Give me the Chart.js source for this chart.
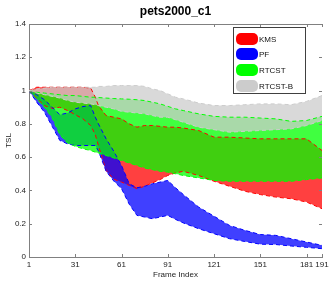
<!DOCTYPE html>
<html>
<head>
<meta charset="utf-8">
<script src="https://cdn.jsdelivr.net/npm/chart.js@4.4.0/dist/chart.umd.min.js"></script>
<style>
    html, body { margin: 0; padding: 0; background: #fff; }
    #wrap { width: 332px; height: 281px; }
</style>
</head>
<body>
<div id="wrap"><canvas id="chartCanvas" width="332" height="281"></canvas></div>
<script>
// Data
const frames = [1, 6, 11, 16, 21, 26, 31, 36, 41, 44, 46, 51, 56, 61, 66, 71, 76, 81, 86, 91, 96, 101, 111, 121, 131, 141, 151, 161, 171, 181, 191];

const kmsUpper = [1.00, 1.02, 1.02, 1.02, 1.02, 1.02, 1.02, 1.02, 1.015, 0.96, 0.91, 0.85, 0.84, 0.83, 0.80, 0.78, 0.79, 0.79, 0.785, 0.78, 0.78, 0.775, 0.76, 0.72, 0.72, 0.715, 0.71, 0.71, 0.71, 0.71, 0.64];
const kmsLower = [1.00, 0.955, 0.91, 0.893, 0.90, 0.88, 0.855, 0.83, 0.79, 0.735, 0.67, 0.52, 0.467, 0.45, 0.43, 0.41, 0.425, 0.445, 0.465, 0.49, 0.505, 0.515, 0.49, 0.455, 0.425, 0.395, 0.375, 0.36, 0.35, 0.33, 0.29];

const pfUpper = [1.00, 0.975, 0.945, 0.90, 0.855, 0.865, 0.89, 0.904, 0.91, 0.84, 0.80, 0.71, 0.635, 0.55, 0.44, 0.416, 0.425, 0.44, 0.45, 0.46, 0.416, 0.376, 0.30, 0.245, 0.19, 0.16, 0.135, 0.13, 0.11, 0.09, 0.07];
const pfLower = [1.00, 0.93, 0.87, 0.785, 0.70, 0.68, 0.67, 0.67, 0.67, 0.67, 0.637, 0.515, 0.456, 0.41, 0.317, 0.25, 0.24, 0.23, 0.24, 0.25, 0.226, 0.205, 0.17, 0.14, 0.11, 0.093, 0.077, 0.075, 0.066, 0.058, 0.05];

const rtcstUpper = [1.00, 0.99, 0.985, 0.98, 0.975, 0.97, 0.97, 0.965, 0.96, 0.96, 0.958, 0.955, 0.952, 0.95, 0.948, 0.945, 0.94, 0.93, 0.92, 0.905, 0.89, 0.88, 0.86, 0.845, 0.84, 0.84, 0.835, 0.83, 0.815, 0.82, 0.845];
const rtcstLower = [1.00, 0.95, 0.90, 0.836, 0.735, 0.685, 0.665, 0.65, 0.64, 0.63, 0.625, 0.61, 0.595, 0.58, 0.565, 0.55, 0.535, 0.525, 0.515, 0.51, 0.50, 0.49, 0.475, 0.46, 0.455, 0.455, 0.455, 0.455, 0.455, 0.465, 0.475];

const rtcstbUpper = [1.00, 1.01, 1.015, 1.02, 1.02, 1.02, 1.02, 1.02, 1.02, 1.02, 1.025, 1.025, 1.03, 1.03, 1.03, 1.03, 1.025, 1.01, 1.00, 0.98, 0.96, 0.95, 0.925, 0.91, 0.91, 0.915, 0.92, 0.92, 0.915, 0.935, 0.97];
const rtcstbLower = [1.00, 0.985, 0.975, 0.965, 0.955, 0.94, 0.93, 0.925, 0.92, 0.915, 0.91, 0.90, 0.89, 0.875, 0.87, 0.865, 0.86, 0.85, 0.84, 0.84, 0.825, 0.81, 0.78, 0.765, 0.75, 0.755, 0.76, 0.765, 0.77, 0.79, 0.82];

const seriesNames = ['KMS', 'PF', 'RTCST', 'RTCST-B'];
const xTicks = [1, 31, 61, 91, 121, 151, 181, 191];
const yTicks = [0, 0.2, 0.4, 0.6, 0.8, 1, 1.2, 1.4];

const lineColors = ['#ff0000', '#0000ff', '#00ff00', '#cccccc'];
const fillColors = ['rgba(255,0,0,0.75)', 'rgba(0,0,255,0.75)', 'rgba(0,255,0,0.75)', 'rgba(204,204,204,0.75)'];
const fontFamily = '"Liberation Sans", Arial, Helvetica, sans-serif';

function toPoints(values) {
    return frames.map((f, i) => ({ x: f, y: values[i] }));
}

// one band = lower line + upper line filled down to it
function bandDatasets(k, upper, lower) {
    const common = {
        borderColor: lineColors[k],
        borderWidth: 1,
        borderDash: [4, 3],
        pointRadius: 0,
        tension: 0,
        order: 4 - k
    };
    return [
        Object.assign({ label: seriesNames[k] + ' low', data: toPoints(lower), fill: false }, common),
        Object.assign({ label: seriesNames[k], data: toPoints(upper), fill: '-1', backgroundColor: fillColors[k] }, common)
    ];
}

const datasets = [].concat(
    bandDatasets(0, kmsUpper, kmsLower),
    bandDatasets(1, pfUpper, pfLower),
    bandDatasets(2, rtcstUpper, rtcstLower),
    bandDatasets(3, rtcstbUpper, rtcstbLower)
);

function roundBlob(ctx, x, y, w, h, r) {
    ctx.beginPath();
    ctx.moveTo(x + r, y);
    ctx.lineTo(x + w - r, y);
    ctx.arcTo(x + w, y, x + w, y + r, r);
    ctx.lineTo(x + w, y + h - r);
    ctx.arcTo(x + w, y + h, x + w - r, y + h, r);
    ctx.lineTo(x + r, y + h);
    ctx.arcTo(x, y + h, x, y + h - r, r);
    ctx.lineTo(x, y + r);
    ctx.arcTo(x, y, x + r, y, r);
    ctx.closePath();
}

// title, box, inward ticks and legend
const framePlugin = {
    id: 'frame',
    afterDraw(chart) {
        const ctx = chart.ctx;
        const area = chart.chartArea;
        const xs = chart.scales.x;
        const ys = chart.scales.y;
        ctx.save();

        ctx.fillStyle = '#000';
        ctx.font = 'bold 12px ' + fontFamily;
        ctx.textAlign = 'center';
        ctx.textBaseline = 'middle';
        ctx.fillText('pets2000_c1', (area.left + area.right) / 2, 12);

        ctx.strokeStyle = '#808080';
        ctx.lineWidth = 1;
        ctx.beginPath();
        ctx.moveTo(area.left, Math.floor(area.top) + 0.5);
        ctx.lineTo(area.right, Math.floor(area.top) + 0.5);
        xTicks.forEach(v => {
            const px = Math.round(xs.getPixelForValue(v)) + 0.5;
            ctx.moveTo(px, area.bottom);
            ctx.lineTo(px, area.bottom - 3);
            ctx.moveTo(px, area.top);
            ctx.lineTo(px, area.top + 3);
        });
        yTicks.forEach(v => {
            const py = Math.round(ys.getPixelForValue(v)) + 0.5;
            ctx.moveTo(area.left, py);
            ctx.lineTo(area.left + 3, py);
            ctx.moveTo(area.right, py);
            ctx.lineTo(area.right - 3, py);
        });
        ctx.stroke();

        // legend
        const lx = 233.5, ly = 27.5, lw = 72, lh = 66;
        ctx.fillStyle = '#fff';
        ctx.fillRect(lx, ly, lw, lh);
        ctx.strokeStyle = '#404040';
        ctx.strokeRect(lx, ly, lw, lh);
        const rows = [39, 54, 70, 86];
        ctx.font = '8px ' + fontFamily;
        ctx.textAlign = 'left';
        seriesNames.forEach((name, i) => {
            roundBlob(ctx, 236, rows[i] - 6, 22, 12, 5);
            ctx.fillStyle = lineColors[i];
            ctx.fill();
            ctx.fillStyle = '#111';
            ctx.fillText(name, 259, rows[i] + 0.5);
        });

        ctx.restore();
    }
};

const chart = new Chart(document.getElementById('chartCanvas'), {
    type: 'line',
    data: { datasets: datasets },
    options: {
        responsive: false,
        animation: false,
        devicePixelRatio: 1,
        layout: { padding: { top: 24, right: 10, left: 0, bottom: 0 } },
        plugins: {
            legend: { display: false },
            tooltip: { enabled: false },
            filler: { drawTime: 'beforeDatasetsDraw' }
        },
        scales: {
            x: {
                type: 'linear',
                min: 1,
                max: 191,
                afterBuildTicks: s => { s.ticks = xTicks.map(v => ({ value: v })); },
                afterFit: s => { s.height = 24; },
                ticks: {
                    autoSkip: false,
                    maxRotation: 0,
                    padding: 3,
                    color: '#222',
                    font: { size: 8, family: fontFamily },
                    callback: v => String(v)
                },
                grid: { drawOnChartArea: false, drawTicks: false },
                border: { color: '#808080' },
                title: {
                    display: true,
                    text: 'Frame Index',
                    color: '#222',
                    font: { size: 8, family: fontFamily },
                    padding: { top: 0, bottom: 1 }
                }
            },
            y: {
                min: 0,
                max: 1.4,
                afterBuildTicks: s => { s.ticks = yTicks.map(v => ({ value: v })); },
                afterFit: s => { s.width = 29; },
                ticks: {
                    padding: 3,
                    color: '#222',
                    font: { size: 8, family: fontFamily },
                    callback: v => String(v)
                },
                grid: { drawOnChartArea: false, drawTicks: false },
                border: { color: '#808080' },
                title: {
                    display: true,
                    text: 'TSL',
                    color: '#222',
                    font: { size: 8, family: fontFamily },
                    padding: { top: 4, bottom: 0 }
                }
            }
        }
    },
    plugins: [framePlugin]
});
</script>
</body>
</html>
